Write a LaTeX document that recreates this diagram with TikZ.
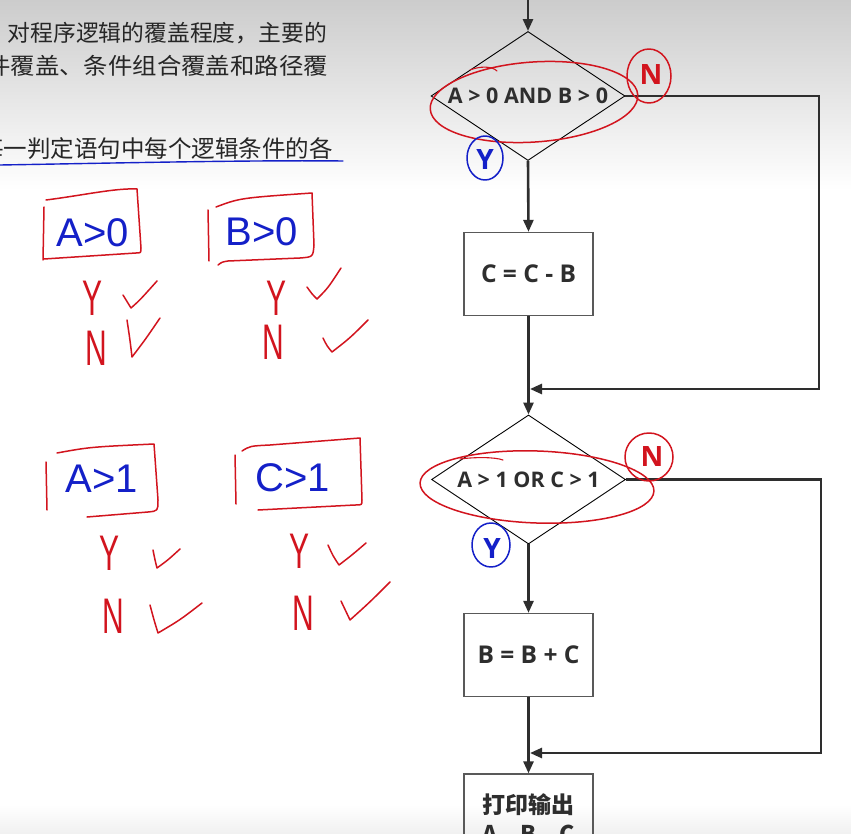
\documentclass[tikz,border=0pt]{standalone}
\usepackage{fontspec}
\setmainfont{Noto Sans CJK SC}
\newfontfamily\hand{Liberation Sans}
\newfontfamily\flow{Open Sans}
\usetikzlibrary{shapes.geometric,arrows.meta}
\definecolor{ink}{HTML}{2E2E2E}
\definecolor{pred}{HTML}{D2141E}
\definecolor{pblue}{HTML}{1420C8}
\begin{document}
\begin{tikzpicture}[x=1pt,y=-1pt,
  conn/.style={ink,line width=2.6pt},
  arr/.style={conn,-{Triangle[length=12pt,width=10pt]}},
  dia/.style={shape=diamond,draw=black,line width=0.9pt,inner sep=0pt,
    minimum width=194pt,minimum height=129pt,font=\flow\bfseries\fontsize{21.5}{24}\selectfont,text=ink},
  proc/.style={shape=rectangle,draw=black!65,line width=1.3pt,minimum width=129pt,
    minimum height=83pt,inner sep=0pt,font=\flow\bfseries\fontsize{24.5}{29}\selectfont,text=ink,align=center},
  redpen/.style={pred,line width=1.5pt,line cap=round,line join=round},
  bluepen/.style={pblue,line width=1.5pt,line cap=round,line join=round},
  body/.style={font=\fontsize{22.8}{26}\selectfont,text=black!85,inner sep=0pt},
  yn/.style={font=\hand\fontsize{50}{50}\selectfont,text=pred,inner sep=0pt},
  cond/.style={font=\hand\fontsize{40}{40}\selectfont,text=pblue,inner sep=0pt},
  ynmark/.style={font=\flow\bfseries\fontsize{28}{28}\selectfont,inner sep=0pt}]
\useasboundingbox (0,0) rectangle (851,834);
\clip (0,0) rectangle (851,834);
% background
\fill[white] (0,0) rectangle (851,834);
\shade[top color={rgb,255:red,204;green,204;blue,204},bottom color=white] (0,0) rectangle (851,190);
\shade[top color=white,bottom color={rgb,255:red,240;green,240;blue,240}] (0,805) rectangle (851,834);

% body text
\node[body,anchor=east] (t1) at (327,33) {对程序逻辑的覆盖程度，主要的};
\node[body,anchor=east] (t2) at (328,66) {\scalebox{1.07}[1]{件覆盖、条件组合覆盖和路径覆}};
\node[body,anchor=east,font=\fontsize{23.5}{26}\selectfont] (t3) at (333,149) {每一判定语句中每个逻辑条件的各};
\draw[bluepen,line width=1.4pt] (0,165) .. controls (120,163) and (250,160) .. (343,161);

% flowchart
\coordinate (s0) at (528,-5);
\node[dia] (d1) at (528,96) {\makebox[0pt]{A > 0 AND B > 0}};
\node[proc] (b1) at (528.5,274) {C = C - B};
\node[dia] (d2) at (528.5,479.5) {\makebox[0pt]{A > 1 OR C > 1}};
\node[proc] (b2) at (528.5,655) {B = B + C};
\node[proc,minimum height=92pt,font=\bfseries\fontsize{23}{29}\selectfont] (b3) at (528.5,820) {打印输出\\A，B，C};
\coordinate (c1) at (819,389);
\coordinate (j1) at (530,389);
\coordinate (c2) at (821,753);
\coordinate (j2) at (530,753);

\draw[arr] (s0) -- (d1.north);
\draw[arr] (d1.south) -- (b1.north);
\draw[arr] (d1.east) -| (c1) -- (j1);
\draw[arr] (b1.south) -- (d2.north);
\draw[arr] (d2.east) -| (c2) -- (j2);
\draw[arr] (d2.south) -- (b2.north);
\draw[arr] (b2.south) -- (b3.north);

% red / blue annotations on flowchart
\draw[redpen,rotate around={4:(534,102)}] (534,102) ellipse [x radius=104, y radius=40];
\draw[redpen,line width=1.1pt] (470,70) .. controls (480,66) and (492,66) .. (497,71);
\node[ynmark,text=pred] (n1) at (651,75) {N};
\draw[redpen] (649,76) ellipse [x radius=22, y radius=27];
\node[ynmark,text=pblue] (y1) at (485,160) {Y};
\draw[bluepen] (485,158) ellipse [x radius=18, y radius=22];

\draw[redpen,rotate around={-2:(537,487)}] (537,487) ellipse [x radius=117, y radius=36];
\draw[redpen,line width=1.1pt] (460,459) .. controls (475,457) and (495,457) .. (503,460);
\node[ynmark,text=pred] (n2) at (652,457) {N};
\draw[redpen] (649,457) ellipse [x radius=24, y radius=24];
\node[ynmark,text=pblue] (y2) at (492,549) {Y};
\draw[bluepen] (491,545) ellipse [x radius=19, y radius=22];

% handwritten notes: A>0
\node[cond] (h1) at (93,233) {A>0};
\draw[redpen] (44,207) -- (43,260);
\draw[redpen] (46,200) .. controls (85,195) and (115,188) .. (137,189) -- (141,248) .. controls (141,253) .. (136,253) -- (44,259);
\node[yn] (h1y) at (93,298) {\scalebox{0.6}[1]{Y}};
\node[yn] (h1n) at (96,348) {\scalebox{0.6}[1]{N}};
\draw[redpen] (123,295) .. controls (127,302) .. (131,308) .. controls (140,300) .. (157,281);
\draw[redpen] (127,320) .. controls (130,340) .. (132,357) .. controls (145,340) .. (160,318);

% B>0
\node[cond] (h2) at (262,232) {B>0};
\draw[redpen] (208,210) -- (209,261);
\draw[redpen] (216,207) .. controls (240,198) .. (312,193) -- (314,245) .. controls (313,257) .. (300,258) -- (228,261) .. controls (222,262) .. (218,265);
\node[yn] (h2y) at (277,298) {\scalebox{0.6}[1]{Y}};
\node[yn] (h2n) at (273,342) {\scalebox{0.6}[1]{N}};
\draw[redpen] (307,287) .. controls (312,294) .. (317,299) .. controls (328,288) .. (341,268);
\draw[redpen] (323,338) .. controls (327,346) .. (332,352) .. controls (350,338) .. (368,320);

% A>1
\node[cond] (h3) at (102,479) {A>1};
\draw[redpen] (46,462) -- (47,510);
\draw[redpen] (57,453) .. controls (90,447) .. (154,444) -- (158,500) .. controls (158,511) .. (148,512) -- (87,517);
\node[yn] (h3y) at (110,553) {\scalebox{0.6}[1]{Y}};
\node[yn] (h3n) at (113,616) {\scalebox{0.6}[1]{N}};
\draw[redpen] (153,550) .. controls (155,560) .. (157,568) .. controls (168,560) .. (180,549);
\draw[redpen] (150,605) .. controls (154,620) .. (158,633) .. controls (180,620) .. (202,603);

% C>1
\node[cond] (h4) at (293,478) {C>1};
\draw[redpen] (235,455) -- (236,504);
\draw[redpen] (242,451) .. controls (250,446) .. (270,445) -- (360,438) -- (362,500) .. controls (362,505) .. (355,505) -- (258,510);
\node[yn] (h4y) at (300,551) {\scalebox{0.6}[1]{Y}};
\node[yn] (h4n) at (303,613) {\scalebox{0.6}[1]{N}};
\draw[redpen] (328,545) .. controls (333,556) .. (339,565) .. controls (352,555) .. (366,543);
\draw[redpen] (341,601) .. controls (345,611) .. (350,620) .. controls (370,602) .. (390,582);
\end{tikzpicture}
\end{document}
